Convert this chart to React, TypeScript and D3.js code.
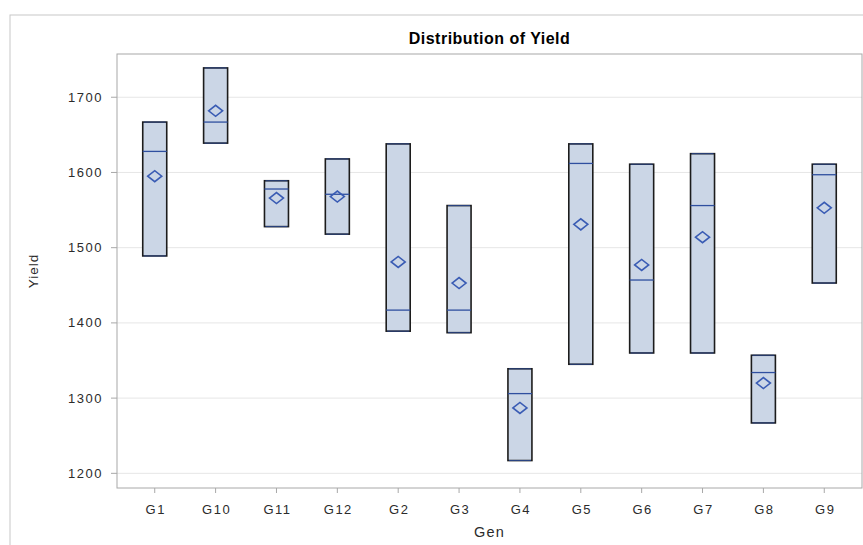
import React from "react";
import * as d3 from "d3";

// Per-genotype yield summaries
const categories = ["G1", "G10", "G11", "G12", "G2", "G3", "G4", "G5", "G6", "G7", "G8", "G9"];
const minValues = [1489, 1639, 1528, 1518, 1389, 1387, 1217, 1345, 1360, 1360, 1267, 1453];
const q1Values = [1489, 1639, 1528, 1518, 1389, 1387, 1217, 1345, 1360, 1360, 1267, 1453];
const medianValues = [1628, 1667, 1578, 1571, 1417, 1417, 1306, 1612, 1457, 1556, 1334, 1597];
const q3Values = [1667, 1739, 1589, 1618, 1638, 1556, 1339, 1638, 1611, 1625, 1357, 1611];
const maxValues = [1667, 1739, 1589, 1618, 1638, 1556, 1339, 1638, 1611, 1625, 1357, 1611];
const meanValues = [1595, 1682, 1566, 1568, 1481, 1453, 1287, 1531, 1477, 1514, 1320, 1553];
const yTicks = [1200, 1300, 1400, 1500, 1600, 1700];

const W = 863;
const H = 545;
const plot = { left: 117, top: 54, right: 862, bottom: 488 };

export default function App() {
  const x = d3.scalePoint<string>().domain(categories).range([plot.left, plot.right]).padding(0.62);
  const y = d3.scaleLinear().domain([1180.5, 1757.5]).range([plot.bottom, plot.top]);
  const boxW = 24;
  const font = "'Liberation Sans', Arial, sans-serif";
  const tickColor = "#2b2b2b";
  const dataBlue = "#2f4f9f";
  const diamondBlue = "#3a5cb4";

  const rows = categories.map((c, i) => ({
    c,
    min: minValues[i],
    q1: q1Values[i],
    med: medianValues[i],
    q3: q3Values[i],
    max: maxValues[i],
    mean: meanValues[i],
  }));

  return (
    <svg width={W} height={H} style={{ position: "absolute", left: 0, top: 0, background: "#fff" }}>
      {/* outer graph border */}
      <rect x={10} y={15} width={W + 20} height={H + 20} fill="#fff" stroke="#c8c8c8" strokeWidth={1} />

      <text x={(plot.left + plot.right) / 2} y={43.5} textAnchor="middle" fontFamily={font} fontWeight="bold" fontSize={16} letterSpacing={0.5} fill="#000">
        Distribution of Yield
      </text>

      {/* gridlines */}
      {yTicks.map((t) => (
        <line key={"g" + t} x1={plot.left} x2={plot.right} y1={y(t)} y2={y(t)} stroke="#e6e6e6" strokeWidth={1} />
      ))}

      {/* boxes */}
      {rows.map((r) => {
        const cx = x(r.c)!;
        return (
          <g key={r.c}>
            <line x1={cx} x2={cx} y1={y(r.q3)} y2={y(r.max)} stroke={dataBlue} />
            <line x1={cx} x2={cx} y1={y(r.q1)} y2={y(r.min)} stroke={dataBlue} />
            <rect
              x={cx - boxW / 2}
              y={y(r.q3)}
              width={boxW}
              height={y(r.q1) - y(r.q3)}
              fill="#cbd6e6"
              stroke="#1c1c1c"
              strokeWidth={1.6}
            />
            <line x1={cx - boxW / 2 + 1} x2={cx + boxW / 2 - 1} y1={y(r.max)} y2={y(r.max)} stroke={dataBlue} strokeWidth={0.8} />
            <line x1={cx - boxW / 2 + 1} x2={cx + boxW / 2 - 1} y1={y(r.min)} y2={y(r.min)} stroke={dataBlue} strokeWidth={0.8} />
            <line x1={cx - boxW / 2} x2={cx + boxW / 2} y1={y(r.med)} y2={y(r.med)} stroke={dataBlue} strokeWidth={1.3} />
            <path
              d={`M${cx - 7},${y(r.mean)} L${cx},${y(r.mean) - 5.5} L${cx + 7},${y(r.mean)} L${cx},${y(r.mean) + 5.5} Z`}
              fill="none"
              stroke={diamondBlue}
              strokeWidth={1.6}
            />
          </g>
        );
      })}

      {/* plot frame */}
      <rect x={plot.left} y={plot.top} width={plot.right - plot.left} height={plot.bottom - plot.top} fill="none" stroke="#a8a8a8" strokeWidth={1} />

      {/* y axis */}
      {yTicks.map((t) => (
        <g key={"y" + t}>
          <line x1={plot.left - 6} x2={plot.left} y1={y(t)} y2={y(t)} stroke="#a8a8a8" />
          <text x={plot.left - 14} y={y(t)} dy="0.35em" textAnchor="end" fontFamily={font} fontSize={13} letterSpacing={1.5} fill={tickColor}>
            {t}
          </text>
        </g>
      ))}
      <text
        transform={`translate(38,${(plot.top + plot.bottom) / 2}) rotate(-90)`}
        textAnchor="middle"
        fontFamily={font}
        fontSize={13.5}
        letterSpacing={1}
        fill={tickColor}
      >
        Yield
      </text>

      {/* x axis */}
      {categories.map((c) => (
        <g key={"x" + c}>
          <line x1={x(c)} x2={x(c)} y1={plot.bottom} y2={plot.bottom + 5} stroke="#a8a8a8" />
          <text x={x(c)! + 1} y={513.5} textAnchor="middle" fontFamily={font} fontSize={13} letterSpacing={1.5} fill={tickColor}>
            {c}
          </text>
        </g>
      ))}
      <text x={(plot.left + plot.right) / 2} y={536.5} textAnchor="middle" fontFamily={font} fontSize={14.5} letterSpacing={1.2} fill={tickColor}>
        Gen
      </text>
    </svg>
  );
}
